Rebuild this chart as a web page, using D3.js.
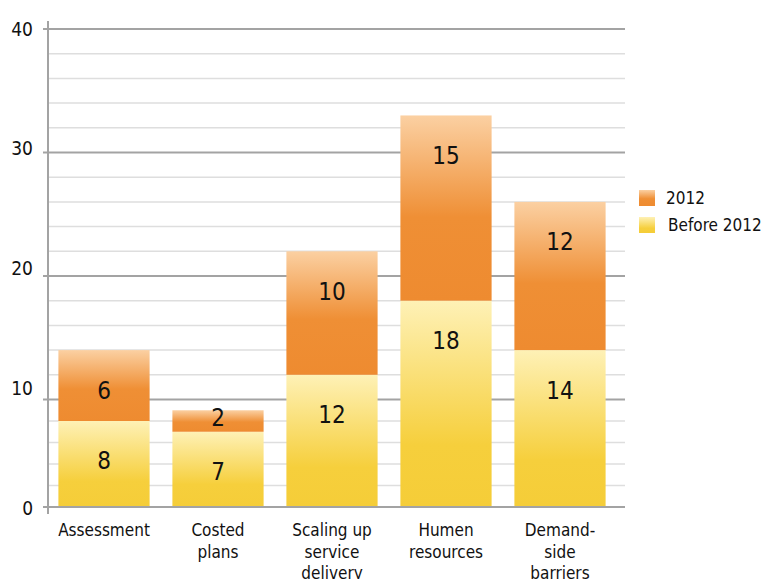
<!DOCTYPE html>
<html>
<head>
<meta charset="utf-8">
<script src="https://cdn.jsdelivr.net/npm/d3@7.9.0/dist/d3.min.js"></script>
<style>
  body { margin: 0; background: #fff; }
  svg text { font-family: "DejaVu Sans Condensed", "DejaVu Sans", sans-serif; font-stretch: condensed; fill: #111; }
</style>
</head>
<body>
<svg id="chart" width="763" height="579"></svg>
<script>
const categories = ['Assessment', 'Costed\nplans', 'Scaling up\nservice\ndelivery', 'Humen\nresources', 'Demand-\nside\nbarriers'];
const before2012 = [8, 7, 12, 18, 14];
const in2012 = [6, 2, 10, 15, 12];
const seriesNames = ['2012', 'Before 2012'];
const yTicks = [0, 10, 20, 30, 40];

const svg = d3.select('#chart');
const W = 763, H = 579,
      m = {top: 29, left: 47, right: 146, bottom: 72};
const gridRight = 625;

const x = d3.scaleBand()
  .domain(categories)
  .range([m.left, W - m.right])
  .paddingInner(0.2)
  .paddingOuter(0.1);

// the original's bottom interval (0-10) is drawn shorter than the others
const y = d3.scaleLinear()
  .domain([0, 10, 40])
  .range([H - m.bottom, 399.5, m.top]);

// tick labels in the original sit evenly spaced
const yLabel = d3.scaleLinear()
  .domain([0, 40])
  .range([H - m.bottom + 1, m.top]);

// gradients
const defs = svg.append('defs');
function grad(id, stops) {
  const g = defs.append('linearGradient')
    .attr('id', id).attr('x1', 0).attr('y1', 0).attr('x2', 0).attr('y2', 1);
  stops.forEach(([o, c]) => g.append('stop').attr('offset', o).attr('stop-color', c));
}
grad('gOrange', [[0, '#fbd0a2'], [0.55, '#ef8f35'], [1, '#ee8b30']]);
grad('gYellow', [[0, '#fef1b6'], [0.7, '#f6cf3c'], [1, '#f5cd38']]);

// gridlines
const grid = svg.append('g').attr('class', 'grid');
grid.selectAll('line')
  .data(d3.range(2, 41, 2))
  .join('line')
    .attr('x1', m.left).attr('x2', gridRight)
    .attr('y1', d => y(d)).attr('y2', d => y(d))
    .attr('stroke', d => d % 10 === 0 ? '#a3a3a3' : '#dedede')
    .attr('stroke-width', d => d % 10 === 0 ? 2 : 1.5);

// stacked bars
const stacked = categories.map((c, i) => ({cat: c, segs: [
  {key: 'before', v0: 0, v1: before2012[i], val: before2012[i]},
  {key: '2012', v0: before2012[i], v1: before2012[i] + in2012[i], val: in2012[i]}
]}));

const bars = svg.append('g').selectAll('g')
  .data(stacked)
  .join('g');

bars.selectAll('rect')
  .data(d => d.segs.map(s => ({...s, cat: d.cat})))
  .join('rect')
    .attr('x', d => x(d.cat))
    .attr('width', x.bandwidth())
    .attr('y', d => y(d.v1))
    .attr('height', d => y(d.v0) - y(d.v1))
    .attr('fill', d => d.key === '2012' ? 'url(#gOrange)' : 'url(#gYellow)');

bars.selectAll('text')
  .data(d => d.segs.map(s => ({...s, cat: d.cat})))
  .join('text')
    .attr('x', d => x(d.cat) + x.bandwidth() / 2)
    .attr('y', d => {
      const h = y(d.v0) - y(d.v1);
      return y(d.v1) + (h < 40 ? h * 0.35 : 40);
    })
    .attr('dy', '0.35em')
    .attr('text-anchor', 'middle')
    .style('font-size', '24px')
    .text(d => d.val);

// y axis
svg.append('line')
  .attr('x1', m.left + 1).attr('x2', m.left + 1)
  .attr('y1', 21).attr('y2', 514)
  .attr('stroke', '#a3a3a3').attr('stroke-width', 2);

svg.append('line')
  .attr('x1', 43).attr('x2', gridRight)
  .attr('y1', y(0)).attr('y2', y(0))
  .attr('stroke', '#a3a3a3').attr('stroke-width', 2);

const yAxis = svg.append('g');
yAxis.selectAll('line')
  .data(yTicks)
  .join('line')
    .attr('x1', 43).attr('x2', m.left)
    .attr('y1', d => y(d)).attr('y2', d => y(d))
    .attr('stroke', '#a3a3a3').attr('stroke-width', 2);
yAxis.selectAll('text')
  .data(yTicks)
  .join('text')
    .attr('x', 33)
    .attr('y', d => yLabel(d))
    .attr('dy', '0.35em')
    .attr('text-anchor', 'end')
    .style('font-size', '19px')
    .text(d => d);

// x labels
const xl = svg.append('g').selectAll('text')
  .data(categories)
  .join('text')
    .attr('text-anchor', 'middle')
    .attr('transform', d => `translate(${x(d) + x.bandwidth() / 2},536)`)
    .style('font-size', '17px');
xl.selectAll('tspan')
  .data(d => d.split('\n'))
  .join('tspan')
    .attr('x', 0)
    .attr('y', (d, i) => i * 21.5)
    .text(d => d);

// legend
const lg = svg.append('g').attr('transform', 'translate(639,190)');
const items = lg.selectAll('g')
  .data(seriesNames)
  .join('g')
    .attr('transform', (d, i) => `translate(0,${i * 27})`);
items.append('rect')
  .attr('width', 16).attr('height', 16)
  .attr('fill', (d, i) => i === 0 ? 'url(#gOrange)' : 'url(#gYellow)');
items.append('text')
  .attr('x', (d, i) => i === 0 ? 27 : 29)
  .attr('y', 8)
  .attr('dy', '0.35em')
  .style('font-size', '17px')
  .text(d => d);
</script>
</body>
</html>
